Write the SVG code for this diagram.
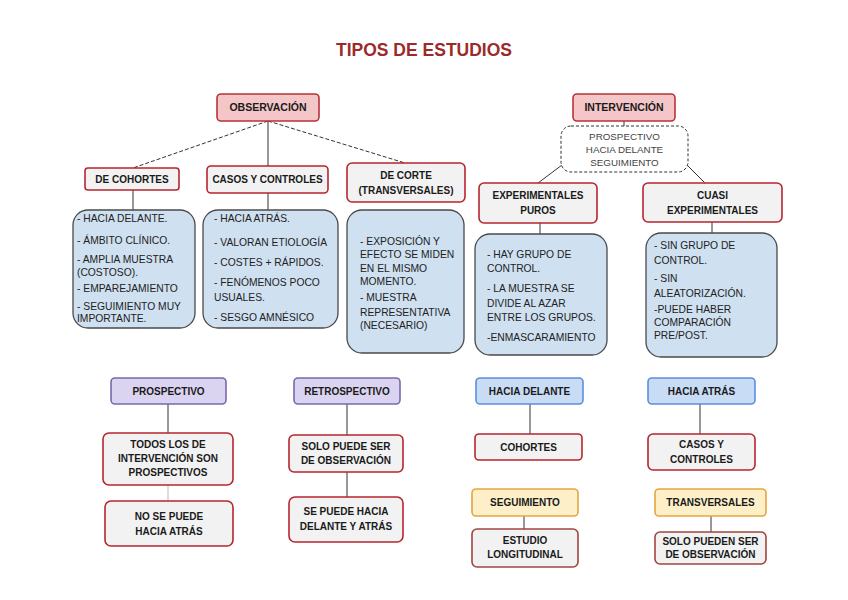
<svg xmlns="http://www.w3.org/2000/svg" width="848" height="600" viewBox="0 0 848 600">
<style>
text{font-family:"Liberation Sans",Arial,sans-serif;}
.t{font-size:10px;font-weight:bold;fill:#1a1a1a;text-anchor:middle;}
.h{font-size:10.5px;}
.b{font-size:10.3px;fill:#222;}
.pink{fill:#f4c6c8;stroke:#b8333a;stroke-width:1.6;}
.gray{fill:#f2f2f2;stroke:#b5262e;stroke-width:1.6;}
.blue{fill:#cfe0f1;stroke:#4a4a4a;stroke-width:1.3;}
.purple{fill:#dbd4f1;stroke:#7a68ad;stroke-width:1.6;}
.lblue{fill:#c9dcf6;stroke:#5b8fd9;stroke-width:1.6;}
.yellow{fill:#fdf0c8;stroke:#e2a640;stroke-width:1.6;}
.brown{fill:#f2f2f2;stroke:#a04540;stroke-width:1.6;}
.cloud{fill:#ffffff;stroke:#333;stroke-width:1;stroke-dasharray:3 2;}
.ln{stroke:#333;stroke-width:1;fill:none;}
.dl{stroke:#333;stroke-width:1;fill:none;stroke-dasharray:4 2;}
</style>
<rect width="848" height="600" fill="#ffffff"/>
<text x="424" y="56" style="font-size:17.5px;font-weight:bold;fill:#9c2a2a;text-anchor:middle;">TIPOS DE ESTUDIOS</text>

<g id="connectors">
<line class="dl" x1="268" y1="121" x2="133" y2="168"/>
<line class="ln" x1="268" y1="121" x2="268" y2="166"/>
<line class="dl" x1="268" y1="121" x2="405" y2="163"/>
<line class="ln" x1="133" y1="190" x2="133" y2="210"/>
<line class="ln" x1="268" y1="193" x2="268" y2="210"/>
<line class="ln" x1="624" y1="121" x2="624" y2="126"/>
<line class="ln" x1="562" y1="165" x2="538" y2="183"/>
<line class="ln" x1="687" y1="165" x2="705" y2="183"/>
<line class="ln" x1="540" y1="223" x2="540" y2="234"/>
<line class="ln" x1="712" y1="222" x2="712" y2="233"/>
<line class="ln" x1="168" y1="404" x2="168" y2="433"/>
<line class="ln" x1="168" y1="485" x2="168" y2="501" style="stroke:#bbb"/>
<line class="ln" x1="347" y1="404" x2="347" y2="435"/>
<line class="ln" x1="347" y1="472" x2="347" y2="497"/>
<line class="ln" x1="530" y1="404" x2="530" y2="434"/>
<line class="ln" x1="700" y1="404" x2="700" y2="434"/>
<line class="ln" x1="524" y1="516" x2="524" y2="529"/>
<line class="ln" x1="711" y1="516" x2="711" y2="532"/>
</g>

<g id="observacion"><rect class="pink" x="217" y="94" width="102" height="27" rx="4"/><text class="t h" x="268" y="111">OBSERVACIÓN</text></g>
<g id="intervencion"><rect class="pink" x="573" y="94" width="102" height="27" rx="4"/><text class="t h" x="624" y="111">INTERVENCIÓN</text></g>

<g id="cohortes"><rect class="gray" x="85" y="168" width="94" height="22" rx="3"/><text class="t" x="132" y="183">DE COHORTES</text></g>
<g id="casos"><rect class="gray" x="207" y="166" width="121" height="27" rx="4"/><text class="t" x="267.500" y="183">CASOS Y CONTROLES</text></g>
<g id="corte"><rect class="gray" x="347" y="163" width="118" height="39" rx="5"/><text class="t" x="406" y="179">DE CORTE</text><text class="t" x="406" y="194">(TRANSVERSALES)</text></g>

<g id="prospectivo-cloud"><rect class="cloud" x="561" y="126" width="127" height="46" rx="10"/>
<text class="b" x="624.500" y="140" text-anchor="middle" style="fill:#444;font-size:9.8px">PROSPECTIVO</text>
<text class="b" x="624.500" y="153" text-anchor="middle" style="fill:#444;font-size:9.8px">HACIA DELANTE</text>
<text class="b" x="624.500" y="166" text-anchor="middle" style="fill:#444;font-size:9.8px">SEGUIMIENTO</text></g>

<g id="exp-puros"><rect class="gray" x="479" y="183" width="118" height="40" rx="5"/><text class="t" x="538" y="199">EXPERIMENTALES</text><text class="t" x="538" y="214">PUROS</text></g>
<g id="cuasi"><rect class="gray" x="643" y="183" width="139" height="39" rx="5"/><text class="t" x="712.500" y="199">CUASI</text><text class="t" x="712.500" y="214">EXPERIMENTALES</text></g>

<g id="cohortes-info"><rect class="blue" x="73" y="210" width="122" height="118" rx="15"/>
<text class="b" x="77" y="222">- HACIA DELANTE.</text>
<text class="b" x="77" y="244">- ÁMBITO CLÍNICO.</text>
<text class="b" x="77" y="263">- AMPLIA MUESTRA</text>
<text class="b" x="77" y="276">(COSTOSO).</text>
<text class="b" x="77" y="292">- EMPAREJAMIENTO</text>
<text class="b" x="77" y="310">- SEGUIMIENTO MUY</text>
<text class="b" x="77" y="322">IMPORTANTE.</text></g>

<g id="casos-info"><rect class="blue" x="203" y="210" width="135" height="118" rx="15"/>
<text class="b" x="214" y="222">- HACIA ATRÁS.</text>
<text class="b" x="214" y="246">- VALORAN ETIOLOGÍA</text>
<text class="b" x="214" y="266">- COSTES + RÁPIDOS.</text>
<text class="b" x="214" y="286">- FENÓMENOS POCO</text>
<text class="b" x="214" y="301">USUALES.</text>
<text class="b" x="214" y="321">- SESGO AMNÉSICO</text></g>

<g id="corte-info"><rect class="blue" x="347" y="210" width="117" height="143" rx="15"/>
<text class="b" x="360" y="245">- EXPOSICIÓN Y</text>
<text class="b" x="360" y="258">EFECTO SE MIDEN</text>
<text class="b" x="360" y="272">EN EL MISMO</text>
<text class="b" x="360" y="285">MOMENTO.</text>
<text class="b" x="360" y="301">- MUESTRA</text>
<text class="b" x="360" y="316">REPRESENTATIVA</text>
<text class="b" x="360" y="329">(NECESARIO)</text></g>

<g id="exp-puros-info"><rect class="blue" x="475" y="234" width="132" height="121" rx="15"/>
<text class="b" x="487" y="258">- HAY GRUPO DE</text>
<text class="b" x="487" y="272">CONTROL.</text>
<text class="b" x="487" y="292">- LA MUESTRA SE</text>
<text class="b" x="487" y="307">DIVIDE AL AZAR</text>
<text class="b" x="487" y="321">ENTRE LOS GRUPOS.</text>
<text class="b" x="487" y="341">-ENMASCARAMIENTO</text></g>

<g id="cuasi-info"><rect class="blue" x="646" y="233" width="131" height="124" rx="15"/>
<text class="b" x="654" y="249">- SIN GRUPO DE</text>
<text class="b" x="654" y="264">CONTROL.</text>
<text class="b" x="654" y="282">- SIN</text>
<text class="b" x="654" y="297">ALEATORIZACIÓN.</text>
<text class="b" x="654" y="313">-PUEDE HABER</text>
<text class="b" x="654" y="326">COMPARACIÓN</text>
<text class="b" x="654" y="339">PRE/POST.</text></g>

<g id="prospectivo"><rect class="purple" x="111" y="378" width="115" height="26" rx="4"/><text class="t" x="168.500" y="395">PROSPECTIVO</text></g>
<g id="todos"><rect class="gray" x="103" y="433" width="130" height="52" rx="6"/><text class="t" x="168" y="448">TODOS LOS DE</text><text class="t" x="168" y="462">INTERVENCIÓN SON</text><text class="t" x="168" y="476">PROSPECTIVOS</text></g>
<g id="no-atras"><rect class="gray" x="105" y="501" width="128" height="45" rx="6"/><text class="t" x="169" y="520">NO SE PUEDE</text><text class="t" x="169" y="535">HACIA ATRÁS</text></g>

<g id="retrospectivo"><rect class="purple" x="294" y="378" width="106" height="26" rx="4"/><text class="t" x="347" y="395">RETROSPECTIVO</text></g>
<g id="solo-obs"><rect class="gray" x="289" y="435" width="114" height="37" rx="5"/><text class="t" x="346" y="450">SOLO PUEDE SER</text><text class="t" x="346" y="464">DE OBSERVACIÓN</text></g>
<g id="se-puede"><rect class="gray" x="289" y="497" width="114" height="45" rx="6"/><text class="t" x="346" y="515">SE PUEDE HACIA</text><text class="t" x="346" y="530">DELANTE Y ATRÁS</text></g>

<g id="hacia-delante"><rect class="lblue" x="476" y="378" width="107" height="26" rx="4"/><text class="t" x="529.500" y="395">HACIA DELANTE</text></g>
<g id="cohortes2"><rect class="gray" x="475" y="434" width="107" height="26" rx="4"/><text class="t" x="528.500" y="451">COHORTES</text></g>
<g id="hacia-atras"><rect class="lblue" x="648" y="378" width="107" height="26" rx="4"/><text class="t" x="701.500" y="395">HACIA ATRÁS</text></g>
<g id="casos2"><rect class="gray" x="648" y="434" width="107" height="36" rx="5"/><text class="t" x="701.500" y="448">CASOS Y</text><text class="t" x="701.500" y="463">CONTROLES</text></g>

<g id="seguimiento"><rect class="yellow" x="472" y="489" width="106" height="27" rx="4"/><text class="t" x="525" y="506">SEGUIMIENTO</text></g>
<g id="longitudinal"><rect class="brown" x="472" y="529" width="106" height="38" rx="5"/><text class="t" x="525" y="544">ESTUDIO</text><text class="t" x="525" y="558">LONGITUDINAL</text></g>
<g id="transversales"><rect class="yellow" x="655" y="489" width="111" height="27" rx="4"/><text class="t" x="710.500" y="506">TRANSVERSALES</text></g>
<g id="solo-obs2"><rect class="brown" x="655" y="532" width="111" height="32" rx="5"/><text class="t" x="710.500" y="545">SOLO PUEDEN SER</text><text class="t" x="710.500" y="558">DE OBSERVACIÓN</text></g>
</svg>
